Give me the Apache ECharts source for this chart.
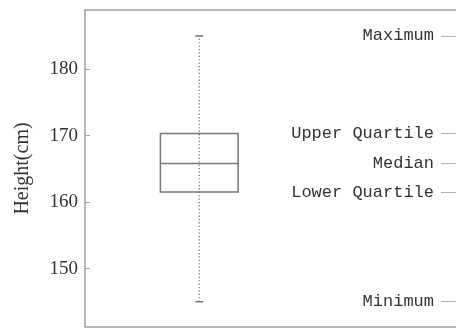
<!DOCTYPE html>
<html><head><meta charset="utf-8">
<script src="https://cdn.jsdelivr.net/npm/echarts@6/dist/echarts.min.js"></script>
<style>html,body{margin:0;padding:0;background:#fff}#c{width:456px;height:329px}</style>
</head><body><div id="c"></div>
<script>
// Data
var boxPosition = 1;
var stats = { min: 145, q1: 161.5, median: 165.8, q3: 170.3, max: 185 };
var yTicks = [150, 160, 170, 180];
var annotationNames = ['Minimum', 'Lower Quartile', 'Median', 'Upper Quartile', 'Maximum'];
var annotationValues = [stats.min, stats.q1, stats.median, stats.q3, stats.max];

var chart = echarts.init(document.getElementById('c'), null, {renderer: 'canvas'});
var lineColor = '#777777';
var frameColor = '#a0a0a0';
var textColor = '#333333';

function renderBox(params, api) {
  var x = api.value(0);
  var mn = api.value(1), q1 = api.value(2), md = api.value(3), q3 = api.value(4), mx = api.value(5);
  var hw = 0.17;
  var capHalf = 4;
  var pMin = api.coord([x, mn]), pMax = api.coord([x, mx]);
  var pQ1L = api.coord([x - hw, q1]), pQ3R = api.coord([x + hw, q3]);
  var pMdL = api.coord([x - hw, md]), pMdR = api.coord([x + hw, md]);
  var children = [
    {type: 'line', shape: {x1: pMin[0], y1: pMin[1], x2: pMax[0], y2: pMax[1]},
     style: {stroke: '#6a6a6a', lineWidth: 1.2, lineDash: [1.2, 2.2]}},
    {type: 'line', shape: {x1: pMin[0] - capHalf, y1: pMin[1], x2: pMin[0] + capHalf, y2: pMin[1]},
     style: {stroke: lineColor, lineWidth: 1.5}},
    {type: 'line', shape: {x1: pMax[0] - capHalf, y1: pMax[1], x2: pMax[0] + capHalf, y2: pMax[1]},
     style: {stroke: lineColor, lineWidth: 1.5}},
    {type: 'rect', shape: {x: pQ1L[0], y: pQ3R[1], width: pQ3R[0] - pQ1L[0], height: pQ1L[1] - pQ3R[1]},
     style: {stroke: lineColor, lineWidth: 1.5, fill: 'none'}},
    {type: 'line', shape: {x1: pMdL[0], y1: pMdL[1], x2: pMdR[0], y2: pMdR[1]},
     style: {stroke: lineColor, lineWidth: 1.5}}
  ];
  return {type: 'group', children: children};
}

var labelMap = {};
annotationValues.forEach(function (v, i) { labelMap[String(v)] = annotationNames[i]; });

chart.setOption({
  animation: false,
  backgroundColor: '#fff',
  grid: {left: 85, top: 10, bottom: 2, width: 377, show: true, borderColor: frameColor, borderWidth: 1.5,
         containLabel: false, outerBoundsMode: 'none'},
  xAxis: {type: 'value', min: 0.5, max: 2.15, show: false},
  yAxis: [{
    type: 'value', min: 141.2, max: 188.9,
    name: 'Height(cm)', nameLocation: 'middle', nameGap: 52, nameRotate: 90,
    nameTextStyle: {fontFamily: 'Liberation Serif', fontSize: 20, color: textColor},
    axisLine: {show: false},
    splitLine: {show: false},
    axisTick: {show: true, inside: true, length: 5, lineStyle: {color: frameColor, width: 1}, customValues: yTicks},
    axisLabel: {fontFamily: 'Liberation Serif', fontSize: 19, color: textColor, margin: 7, customValues: yTicks}
  }, {
    type: 'value', min: 141.2, max: 188.9, position: 'right',
    axisLine: {show: false},
    splitLine: {show: false},
    axisTick: {show: true, inside: true, length: 21, lineStyle: {color: '#b0b0b0', width: 1}, customValues: annotationValues},
    axisLabel: {inside: true, margin: 28, fontFamily: 'Liberation Mono', fontSize: 17, color: textColor,
      customValues: annotationValues,
      formatter: function (v) { return labelMap[String(v)] || ''; }}
  }],
  series: [{
    type: 'custom',
    renderItem: renderBox,
    encode: {x: 0, y: [1, 2, 3, 4, 5]},
    data: [[boxPosition, stats.min, stats.q1, stats.median, stats.q3, stats.max]],
    clip: false
  }]
});
</script></body></html>
